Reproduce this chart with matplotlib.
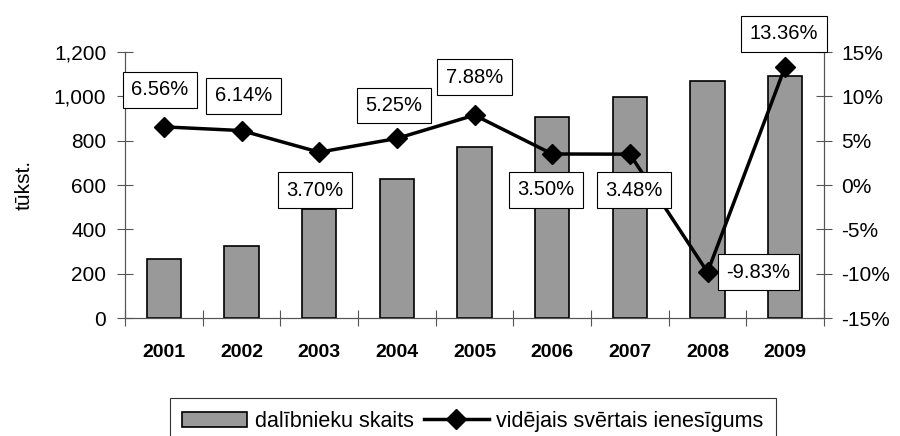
import matplotlib
matplotlib.use('Agg')
import matplotlib.pyplot as plt
from matplotlib.patches import Patch
from matplotlib.lines import Line2D
from matplotlib.ticker import FuncFormatter, FixedLocator
import numpy as np

plt.rcParams['font.family'] = ['Liberation Sans', 'DejaVu Sans']

# ── dati ─────────────────────────────────────────────────────────────────────
gadi = ['2001', '2002', '2003', '2004', '2005', '2006', '2007', '2008', '2009']
dalibnieki = [266, 326, 490, 628, 770, 905, 998, 1070, 1094]   # tūkst.
ienesigums = [6.56, 6.14, 3.70, 5.25, 7.88, 3.50, 3.48, -9.83, 13.36]  # %
# etiķešu nobīde (pikseļos) no punkta
label_offsets = [(-4, 37), (2, 35), (-4, -38), (-3, 33), (0, 38),
                 (-6, -36), (4, -36), (51, 0), (-1, 33)]

x = np.arange(len(gadi))
bar_color = '#999999'
axis_color = '#555555'

fig = plt.figure(figsize=(9, 4.36), dpi=100)
ax = fig.add_axes([0.1389, 0.2706, 0.7767, 0.6101])

ax.bar(x, dalibnieki, width=0.44, color=bar_color, edgecolor='black',
       linewidth=1.2, zorder=2)
ax.set_xlim(-0.5, 8.5)
ax.set_ylim(0, 1200)
ax.set_yticks(range(0, 1201, 200))
ax.yaxis.set_major_formatter(FuncFormatter(lambda v, p: f'{int(v):,}'))
ax.xaxis.set_major_locator(FixedLocator(np.arange(-0.5, 9, 1)))
ax.set_xticklabels([])
ax.set_xticks(x, minor=True)
ax.set_xticklabels(gadi, minor=True, fontsize=14, fontweight='bold')
ax.tick_params(axis='x', which='minor', length=0, pad=19)
ax.tick_params(axis='x', which='major', direction='inout', length=11,
               color=axis_color)
ax.tick_params(axis='y', direction='inout', length=11, pad=8,
               labelsize=15, color=axis_color)
ax.spines['top'].set_visible(False)
for s in ['left', 'bottom', 'right']:
    ax.spines[s].set_color(axis_color)

ax2 = ax.twinx()
ax2.plot(x, ienesigums, color='black', linewidth=2.5, marker='D',
         markersize=10, zorder=3)
ax2.set_ylim(-15, 15)
ax2.set_yticks(range(-15, 16, 5))
ax2.yaxis.set_major_formatter(FuncFormatter(lambda v, p: f'{int(v)}%'))
ax2.tick_params(axis='y', direction='inout', length=11, pad=7,
                labelsize=15, color=axis_color)
ax2.spines['top'].set_visible(False)
for s in ['left', 'bottom', 'right']:
    ax2.spines[s].set_color(axis_color)

for xi, yi, (dx, dy) in zip(x, ienesigums, label_offsets):
    ax2.annotate(f'{yi:.2f}%', (xi, yi), xytext=(dx, dy),
                 textcoords='offset pixels', ha='center', va='center',
                 fontsize=14.5, zorder=5, annotation_clip=False,
                 bbox=dict(boxstyle='square,pad=0.42', fc='white',
                           ec='black', lw=0.8))

fig.text(24 / 900, 1 - 185 / 436, 'tūkst.', rotation=90, ha='center',
         va='center', fontsize=15)

handles = [Patch(facecolor=bar_color, edgecolor='black', linewidth=1.2,
                 label='dalībnieku skaits'),
           Line2D([0], [0], color='black', linewidth=2.5, marker='D',
                  markersize=10, label='vidējais svērtais ienesīgums')]
leg = fig.legend(handles=handles, loc='upper center',
                 bbox_to_anchor=(473 / 900, 1 - 398 / 436), ncol=2,
                 fontsize=15.5, frameon=True, fancybox=False, edgecolor='black',
                 handlelength=3.0, handleheight=0.7, columnspacing=0.5,
                 handletextpad=0.35, borderpad=0.6, borderaxespad=0)
leg.get_frame().set_linewidth(0.8)

fig.savefig('out.png', dpi=100)
